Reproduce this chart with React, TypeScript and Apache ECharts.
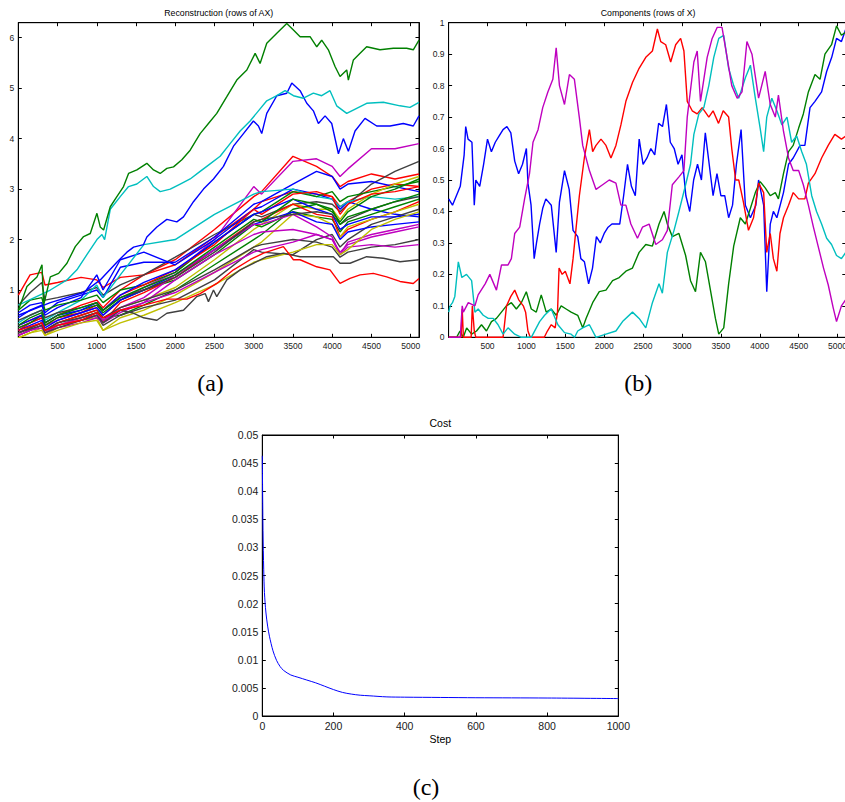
import React, { useEffect, useRef } from 'react';
import * as echarts from 'echarts';

// ---------- colours (MATLAB default order) ----------
const COL: Record<string, string> = {
  b: '#0000FF', g: '#008000', r: '#FF0000', c: '#00BFBF', m: '#BF00BF', y: '#BFBF00', k: '#404040',
};

// ---------- panel (a): Reconstruction (rows of AX) ----------
const aGreenTop: number[][] = [[1,0.6],[110,1.07],[238,1.26],[302,1.5],[323,0.7],[408,1.26],[514,1.33],[620,1.53],[726,1.86],[832,2.06],[917,2.12],[1002,2.52],[1044,2.25],[1087,2.19],[1172,2.65],[1256,2.85],[1341,3.05],[1405,3.31],[1511,3.38],[1638,3.51],[1723,3.38],[1808,3.31],[1893,3.41],[1978,3.44],[2084,3.58],[2190,3.77],[2317,4.1],[2423,4.3],[2529,4.5],[2657,4.83],[2784,5.16],[2912,5.36],[3018,5.69],[3081,5.49],[3166,5.89],[3294,6.09],[3421,6.28],[3506,6.15],[3591,6.02],[3718,6.02],[3803,5.82],[3866,5.95],[3951,5.76],[4036,5.43],[4100,5.23],[4185,5.36],[4206,5.16],[4270,5.56],[4355,5.69],[4439,5.82],[4609,5.76],[4779,5.79],[4949,5.79],[5033,5.76],[5106,5.95]];
const aCyanTop: number[][] = [[1,0.7],[408,1.0],[620,1.2],[747,1.4],[874,1.7],[1002,2.0],[1066,2.1],[1100,2.0],[1172,2.6],[1299,2.85],[1405,3.05],[1511,3.1],[1638,3.25],[1723,3.05],[1808,2.95],[1936,3.0],[2063,3.1],[2190,3.2],[2317,3.35],[2444,3.5],[2572,3.65],[2699,3.9],[2827,4.15],[2954,4.35],[3060,4.55],[3166,4.75],[3294,4.85],[3400,4.95],[3506,4.85],[3633,4.8],[3760,4.9],[3866,4.85],[3972,4.95],[4057,4.65],[4185,4.5],[4312,4.6],[4439,4.7],[4652,4.72],[4864,4.65],[4991,4.62],[5106,4.72]];
const aBlueTop: number[][] = [[1,0.5],[408,0.75],[832,0.95],[1044,1.2],[1256,1.55],[1384,1.75],[1469,1.85],[1596,1.9],[1638,2.05],[1766,2.25],[1893,2.4],[2020,2.35],[2105,2.45],[2232,2.75],[2360,3.0],[2487,3.2],[2614,3.45],[2742,3.85],[2869,4.1],[2996,4.35],[3060,4.25],[3102,4.1],[3166,4.5],[3294,4.85],[3421,4.9],[3485,5.1],[3591,4.95],[3676,4.7],[3760,4.55],[3824,4.3],[3909,4.45],[3994,4.3],[4079,3.7],[4142,4.0],[4206,3.75],[4291,4.15],[4418,4.4],[4567,4.25],[4737,4.25],[4906,4.3],[5033,4.25],[5106,4.45]];
const aGrayLow: number[][] = [[1,0.15],[300,0.3],[340,0.15],[500,0.25],[800,0.4],[1000,0.5],[1080,0.35],[1300,0.6],[1450,0.55],[1596,0.45],[1766,0.4],[1893,0.54],[2105,0.6],[2275,0.87],[2381,0.93],[2423,0.77],[2487,1.0],[2529,0.87],[2657,1.2],[2827,1.4],[2996,1.53],[3166,1.66],[3378,1.73],[3591,1.66],[3803,1.66],[4015,1.66],[4100,1.53],[4227,1.53],[4439,1.66],[4652,1.63],[4864,1.56],[5106,1.6]];
const aRedLow: number[][] = [[1,0.2],[300,0.35],[340,0.2],[500,0.3],[800,0.4],[1000,0.55],[1080,0.45],[1300,0.6],[1600,0.7],[1893,0.82],[2148,0.82],[2317,0.93],[2529,1.13],[2742,1.4],[2954,1.6],[3124,1.73],[3378,1.86],[3506,1.6],[3591,1.6],[3803,1.46],[3972,1.4],[4100,1.13],[4227,1.23],[4355,1.3],[4524,1.33],[4694,1.26],[4864,1.17],[5033,1.13],[5106,1.23]];

const aBundleX = [1,150,300,340,500,800,1000,1080,1300,1600,2000,2500,3000,3100,3500,3800,4000,4100,4200,4500,4800,5106];
const aB01 = [0.9,1.3,1.35,1.1,1.15,1.25,1.2,1.05,1.25,1.3,1.5,2.05,2.6,2.75,2.95,2.9,2.85,2.65,2.75,3.0,3.1,3.05];
const aB02 = [0.3,0.4,0.5,0.35,0.5,0.7,0.8,0.65,1.0,1.3,1.6,2.2,2.85,2.95,3.65,3.45,3.25,3.05,3.15,3.3,3.2,3.3];
const aB03 = [0.25,0.35,0.45,0.3,0.4,0.55,0.65,0.5,0.8,1.05,1.35,2.0,3.05,2.9,3.55,3.6,3.45,3.25,3.4,3.8,3.8,3.9];
const aB04 = [0.7,0.95,1.15,0.8,0.85,0.95,1.05,0.9,1.1,1.3,1.65,2.1,2.5,2.45,2.7,2.75,2.7,2.55,2.7,3.1,3.35,3.55];
const aB05 = [0.55,0.7,0.75,0.55,0.75,0.9,1.0,0.85,1.45,1.55,1.55,2.05,2.7,2.75,3.1,3.35,3.25,3.0,3.1,3.15,3.05,2.95];
const aB06 = [0.45,0.6,0.7,0.5,0.65,0.85,1.3,1.0,1.6,1.75,1.5,2.0,2.6,2.65,3.0,2.9,2.8,2.6,2.75,2.6,2.5,2.45];
const aB07 = [0.35,0.5,0.6,0.4,0.55,0.8,1.1,0.85,1.3,1.9,2.0,2.5,2.9,2.95,3.0,2.85,2.8,2.65,2.75,2.85,2.8,2.85];
const aB08 = [0.6,0.8,0.85,0.6,0.7,0.8,0.9,0.75,1.0,1.1,1.35,1.95,2.5,2.55,2.95,2.85,2.95,2.75,2.85,2.95,3.05,3.15];
const aB09 = [0.1,0.2,0.3,0.15,0.3,0.45,0.55,0.4,0.65,0.8,1.05,1.6,2.2,2.3,2.7,2.6,2.6,2.4,2.6,2.9,3.1,3.25];
const aB10 = [0.15,0.25,0.35,0.2,0.35,0.5,0.6,0.45,0.5,0.7,1.0,1.5,2.0,2.1,2.6,2.7,2.55,2.35,2.55,2.85,3.0,3.2];
const aB11 = [0.2,0.35,0.45,0.3,0.45,0.55,0.7,0.6,0.9,1.1,1.4,1.9,2.6,2.5,2.9,2.95,2.85,2.5,2.7,2.9,2.95,3.05];
const aB12 = [0.25,0.35,0.5,0.3,0.45,0.6,0.7,0.55,0.8,1.0,1.2,1.7,2.3,2.25,2.55,2.45,2.4,2.15,2.35,2.5,2.65,2.8];
const aB13 = [0.15,0.25,0.35,0.2,0.35,0.5,0.6,0.35,0.75,0.95,1.25,1.8,2.35,2.4,2.7,2.5,2.45,2.05,2.2,2.4,2.55,2.75];
const aB14 = [0.05,0.15,0.25,0.1,0.25,0.4,0.45,0.2,0.45,0.6,0.9,1.35,1.85,1.95,2.5,2.45,2.3,2.05,2.25,2.4,2.55,2.7];
const aB15 = [0.1,0.2,0.3,0.15,0.3,0.4,0.5,0.3,0.5,0.65,0.8,1.2,1.8,1.75,1.7,2.0,2.1,1.85,2.0,2.3,2.45,2.6];
const aB16 = [0.3,0.4,0.5,0.35,0.5,0.6,0.75,0.6,0.9,1.15,1.4,1.95,2.5,2.55,2.8,2.6,2.5,2.2,2.3,2.45,2.45,2.5];
const aB17 = [0.2,0.3,0.4,0.25,0.4,0.55,0.65,0.5,0.8,1.0,1.3,1.8,2.3,2.35,2.55,2.35,2.3,2.0,2.15,2.25,2.3,2.35];
const aB18 = [0.15,0.25,0.35,0.2,0.3,0.45,0.55,0.4,0.65,0.85,1.3,1.8,2.3,2.3,2.5,2.25,2.05,1.7,1.95,2.1,2.2,2.3];
const aB19 = [0.1,0.2,0.25,0.15,0.25,0.35,0.45,0.35,0.55,0.75,1.2,1.7,2.1,2.15,2.2,2.1,2.0,1.75,1.9,2.05,2.15,2.25];
const aB20 = [0.15,0.25,0.35,0.2,0.35,0.45,0.55,0.45,0.65,0.8,1.0,1.4,1.85,1.9,2.0,1.95,1.85,1.65,1.75,1.85,1.9,2.0];
const aB21 = [0.1,0.2,0.3,0.15,0.3,0.4,0.5,0.4,0.6,0.75,0.95,1.35,1.75,1.8,1.95,2.1,2.0,1.7,1.85,1.9,1.85,1.9];
const aB22 = [0.05,0.15,0.2,0.1,0.2,0.35,0.4,0.2,0.35,0.5,0.75,1.1,1.55,1.6,1.75,1.9,1.9,1.7,1.8,2.2,2.4,2.55];
const aB23 = [0.4,0.5,0.6,0.45,0.55,0.65,0.75,0.6,0.85,1.0,1.25,1.75,2.35,2.4,2.5,2.55,2.5,2.3,2.4,2.6,2.75,2.85];
const aB24 = [0.3,0.45,0.55,0.35,0.5,0.65,0.75,0.6,0.85,1.05,1.3,1.85,2.4,2.35,2.8,2.7,2.6,2.3,2.45,2.6,2.75,2.9];
const aBundle = [aB01,aB02,aB03,aB04,aB05,aB06,aB07,aB08,aB09,aB10,aB11,aB12,aB13,aB14,aB15,aB16,aB17,aB18,aB19,aB20,aB21,aB22,aB23,aB24];
const aBundleColors = ['r','r','m','k','b','b','c','g','y','g','r','g','r','y','k','b','b','m','m','k','m','y','k','g'];

// ---------- panel (b): Components (rows of X) ----------
const bBlue: number[][] = [[1,0.44],[50,0.42],[100,0.45],[150,0.48],[200,0.58],[220,0.67],[250,0.63],[300,0.62],[330,0.42],[350,0.5],[400,0.48],[450,0.55],[500,0.63],[550,0.59],[600,0.62],[650,0.64],[700,0.66],[750,0.67],[800,0.65],[850,0.56],[900,0.52],[950,0.55],[1000,0.6],[1020,0.49],[1060,0.42],[1100,0.25],[1130,0.3],[1170,0.36],[1210,0.41],[1250,0.44],[1320,0.42],[1383,0.27],[1425,0.43],[1490,0.53],[1550,0.47],[1600,0.34],[1660,0.32],[1700,0.25],[1746,0.24],[1800,0.17],[1850,0.22],[1900,0.32],[1950,0.3],[2000,0.33],[2050,0.35],[2100,0.36],[2200,0.36],[2250,0.45],[2300,0.55],[2350,0.48],[2400,0.45],[2450,0.63],[2500,0.55],[2550,0.57],[2600,0.6],[2650,0.58],[2700,0.68],[2750,0.67],[2800,0.74],[2850,0.62],[2900,0.6],[2950,0.55],[3000,0.58],[3050,0.45],[3100,0.4],[3150,0.5],[3200,0.55],[3250,0.5],[3300,0.65],[3350,0.55],[3400,0.45],[3450,0.52],[3500,0.45],[3550,0.45],[3600,0.38],[3650,0.42],[3700,0.55],[3760,0.66],[3815,0.42],[3880,0.38],[3950,0.42],[3985,0.5],[4050,0.42],[4090,0.145],[4135,0.36],[4175,0.4],[4220,0.38],[4305,0.46],[4370,0.55],[4430,0.57],[4518,0.61],[4580,0.61],[4646,0.73],[4710,0.75],[4795,0.78],[4860,0.845],[4925,0.89],[4987,0.95],[5050,0.94],[5106,0.98]];
const bRed: number[][] = [[1,0],[160,0],[175,0.09],[190,0],[290,0],[305,0.1],[330,0.02],[350,0],[700,0],[745,0.1],[800,0.13],[850,0.15],[900,0.12],[960,0.1],[990,0.08],[1020,0.02],[1050,0],[1230,0],[1270,0.02],[1320,0.04],[1370,0.03],[1400,0.08],[1420,0.22],[1460,0.2],[1500,0.21],[1560,0.17],[1600,0.25],[1640,0.35],[1681,0.45],[1745,0.57],[1810,0.66],[1852,0.59],[1895,0.61],[1959,0.63],[2023,0.61],[2087,0.57],[2151,0.61],[2215,0.675],[2279,0.75],[2364,0.81],[2449,0.855],[2535,0.89],[2620,0.91],[2684,0.98],[2727,0.94],[2791,0.93],[2855,0.875],[2919,0.93],[2983,0.95],[3025,0.91],[3068,0.75],[3132,0.72],[3196,0.71],[3260,0.73],[3345,0.7],[3400,0.72],[3470,0.68],[3530,0.72],[3600,0.7],[3640,0.6],[3690,0.5],[3730,0.5],[3790,0.43],[3855,0.34],[3920,0.38],[3985,0.49],[4050,0.46],[4090,0.27],[4135,0.33],[4175,0.25],[4220,0.21],[4260,0.33],[4305,0.38],[4370,0.42],[4430,0.46],[4500,0.44],[4580,0.44],[4625,0.49],[4710,0.52],[4795,0.57],[4880,0.61],[4965,0.645],[5050,0.63],[5106,0.64]];
const bMagenta: number[][] = [[1,0],[150,0],[175,0.1],[190,0.08],[253,0.11],[338,0.1],[380,0.135],[470,0.17],[530,0.2],[615,0.15],[680,0.23],[764,0.23],[807,0.25],[850,0.33],[914,0.35],[977,0.44],[1040,0.52],[1085,0.62],[1150,0.66],[1210,0.73],[1276,0.78],[1340,0.82],[1383,0.92],[1425,0.8],[1490,0.74],[1553,0.835],[1617,0.82],[1680,0.7],[1724,0.61],[1810,0.53],[1895,0.47],[1980,0.485],[2065,0.5],[2151,0.49],[2215,0.42],[2279,0.42],[2343,0.36],[2428,0.315],[2492,0.35],[2578,0.36],[2663,0.295],[2748,0.31],[2812,0.34],[2876,0.485],[2961,0.51],[3025,0.53],[3068,0.7],[3153,0.875],[3196,0.91],[3238,0.75],[3324,0.89],[3388,0.95],[3452,0.985],[3515,0.985],[3580,0.89],[3640,0.8],[3710,0.76],[3772,0.78],[3835,0.94],[3900,0.9],[3985,0.76],[4070,0.845],[4135,0.74],[4200,0.7],[4240,0.77],[4305,0.655],[4370,0.57],[4430,0.53],[4500,0.53],[4560,0.485],[4625,0.42],[4690,0.35],[4755,0.285],[4820,0.22],[4880,0.167],[4945,0.093],[4987,0.05],[5050,0.1],[5106,0.12]];
const bCyan: number[][] = [[1,0.08],[20,0.1],[50,0.11],[80,0.13],[125,0.24],[170,0.19],[230,0.2],[296,0.18],[338,0.08],[380,0.09],[445,0.07],[510,0.06],[573,0.06],[636,0.04],[700,0.01],[764,0.03],[850,0.01],[935,0],[1063,0],[1170,0.05],[1234,0.07],[1319,0.09],[1405,0.04],[1490,0.015],[1575,0.01],[1620,0],[1660,0.02],[1724,0.03],[1810,0.04],[1895,0],[2023,0.01],[2151,0.02],[2236,0.05],[2364,0.08],[2449,0.06],[2535,0.03],[2620,0.11],[2705,0.17],[2748,0.14],[2812,0.27],[2898,0.34],[2961,0.4],[3047,0.485],[3110,0.55],[3153,0.645],[3217,0.71],[3281,0.73],[3345,0.8],[3409,0.89],[3473,0.95],[3537,0.96],[3600,0.855],[3665,0.8],[3730,0.76],[3815,0.825],[3880,0.865],[3943,0.76],[4005,0.665],[4050,0.59],[4090,0.7],[4155,0.76],[4220,0.72],[4285,0.675],[4350,0.7],[4410,0.62],[4475,0.64],[4540,0.59],[4600,0.55],[4668,0.45],[4730,0.4],[4795,0.36],[4860,0.315],[4923,0.295],[4987,0.26],[5050,0.25],[5106,0.27]];
const bGreen: number[][] = [[1,0],[103,0],[146,0.02],[189,0],[232,0.03],[296,0.01],[359,0.02],[423,0.04],[487,0.02],[551,0.05],[615,0.06],[679,0.08],[743,0.1],[807,0.11],[871,0.09],[935,0.11],[999,0.145],[1063,0.09],[1127,0.08],[1191,0.135],[1255,0.08],[1319,0.09],[1383,0.07],[1447,0.1],[1511,0.09],[1575,0.08],[1660,0.07],[1724,0.03],[1767,0.06],[1852,0.11],[1937,0.145],[2023,0.15],[2108,0.18],[2193,0.19],[2279,0.21],[2364,0.22],[2449,0.27],[2535,0.295],[2620,0.29],[2705,0.36],[2770,0.4],[2812,0.36],[2876,0.32],[2961,0.33],[3047,0.26],[3110,0.18],[3174,0.145],[3238,0.27],[3302,0.24],[3366,0.15],[3430,0.06],[3473,0.01],[3537,0.03],[3600,0.17],[3665,0.29],[3750,0.38],[3815,0.36],[3880,0.41],[3943,0.46],[4005,0.495],[4070,0.475],[4135,0.45],[4200,0.46],[4240,0.44],[4305,0.52],[4370,0.59],[4430,0.61],[4500,0.665],[4560,0.71],[4625,0.78],[4710,0.835],[4775,0.82],[4838,0.9],[4923,0.93],[4987,0.99],[5050,0.96],[5106,0.97]];

// ---------- panel (c): Cost ----------
const cSteps = [0,2,4,6,10,15,20,30,40,50,60,80,100,125,150,175,200,225,250,275,300,350,400,500,600,800,1000];
const cCost = [0.0463,0.033,0.026,0.022,0.0185,0.016,0.0142,0.0116,0.0099,0.0088,0.0081,0.0073,0.0069,0.0064,0.0059,0.0053,0.0047,0.0042,0.0039,0.0037,0.0036,0.0034,0.00335,0.0033,0.00325,0.0032,0.0031];

// ---------- texts ----------
const titles = ['Reconstruction (rows of AX)', 'Components (rows of X)', 'Cost'];
const xLabelC = 'Step';
const captions = ['(a)', '(b)', '(c)'];

const SANS = 'Liberation Sans';

function axis(pos: string, gridIndex: number, min: number, max: number, interval: number | undefined,
  fontSize: number, showLabel: boolean, formatter?: (v: number) => string) {
  const a: any = {
    type: 'value', gridIndex, position: pos, min, max,
    axisLine: { show: true, onZero: false, lineStyle: { color: '#000', width: 1 } },
    axisTick: { show: true, inside: true, length: 3.5, lineStyle: { color: '#000', width: 1 } },
    axisLabel: { show: showLabel, fontSize, fontFamily: SANS, color: '#1a1a1a', margin: 4,
      formatter: formatter || ((v: number) => String(v)) },
    splitLine: { show: false },
  };
  if (interval !== undefined) a.interval = interval;
  return a;
}

function buildOption() {
  const fmtA_x = (v: number) => (v > 0 && v % 500 === 0 ? String(v) : '');
  const fmtA_y = (v: number) => (Number.isInteger(v) ? String(v) : '');
  const aYmin = 0.063, aYmax = 6.297;
  const LW = 1.4;

  const series: any[] = [];
  const lineA = (data: number[][], color: string) => ({
    type: 'line', xAxisIndex: 0, yAxisIndex: 0, data, showSymbol: false, symbol: 'none',
    lineStyle: { color, width: LW }, itemStyle: { color }, silent: true,
  });
  aBundle.forEach((ys, i) => {
    series.push(lineA(aBundleX.map((x, j) => [x, ys[j]]), COL[aBundleColors[i]]));
  });
  series.push(lineA(aGrayLow, COL.k));
  series.push(lineA(aRedLow, COL.r));
  series.push(lineA(aBlueTop, COL.b));
  series.push(lineA(aCyanTop, COL.c));
  series.push(lineA(aGreenTop, COL.g));

  const lineB = (data: number[][], color: string) => ({
    type: 'line', xAxisIndex: 2, yAxisIndex: 2, data, showSymbol: false, symbol: 'none',
    lineStyle: { color, width: LW }, itemStyle: { color }, silent: true,
  });
  series.push(lineB(bBlue, COL.b));
  series.push(lineB(bGreen, COL.g));
  series.push(lineB(bRed, COL.r));
  series.push(lineB(bCyan, COL.c));
  series.push(lineB(bMagenta, COL.m));

  series.push({
    type: 'line', xAxisIndex: 4, yAxisIndex: 4, data: cSteps.map((s, i) => [s, cCost[i]]),
    showSymbol: false, symbol: 'none', smooth: 0.3,
    lineStyle: { color: COL.b, width: 1 }, itemStyle: { color: COL.b }, silent: true,
  });

  const txt = (text: string, x: number, y: number, fontSize: number, family: string) => ({
    type: 'text', x, y, silent: true,
    style: { text, fontSize, fontFamily: family, fill: '#000', textAlign: 'center', align: 'center',
      textVerticalAlign: 'middle', verticalAlign: 'middle' },
  });

  const gridStyle = { show: true, borderColor: '#000', borderWidth: 1, backgroundColor: '#fff' };

  return {
    animation: false,
    backgroundColor: '#fff',
    grid: [
      { left: 18.3, top: 22.7, width: 400.7, height: 314.6, ...gridStyle },
      { left: 448.6, top: 22.7, width: 399, height: 314.6, ...gridStyle },
      { left: 262.3, top: 435, width: 356, height: 281, ...gridStyle },
    ],
    xAxis: [
      axis('bottom', 0, 0, 5106, 500, 8.5, true, fmtA_x),
      axis('top', 0, 0, 5106, 500, 8.5, false),
      axis('bottom', 1, 0, 5106, 500, 8.5, true, fmtA_x),
      axis('top', 1, 0, 5106, 500, 8.5, false),
      axis('bottom', 2, 0, 1000, 200, 10.5, true),
      axis('top', 2, 0, 1000, 200, 10.5, false),
    ],
    yAxis: [
      axis('left', 0, aYmin, aYmax, undefined, 8.5, true, fmtA_y),
      axis('right', 0, aYmin, aYmax, undefined, 8.5, false),
      axis('left', 1, 0, 1, 0.1, 8.5, true),
      axis('right', 1, 0, 1, 0.1, 8.5, false),
      axis('left', 2, 0, 0.05, 0.005, 10.5, true),
      axis('right', 2, 0, 0.05, 0.005, 10.5, false),
    ],
    series,
    graphic: [
      txt(titles[0], 218.7, 12.7, 8.8, SANS),
      txt(titles[1], 648.1, 12.7, 8.8, SANS),
      txt(titles[2], 440.3, 423.3, 10.5, SANS),
      txt(xLabelC, 440.3, 739.3, 10.5, SANS),
      txt(captions[0], 210.5, 383, 24, 'Liberation Serif'),
      txt(captions[1], 638.3, 383, 24, 'Liberation Serif'),
      txt(captions[2], 426, 786.7, 24, 'Liberation Serif'),
    ],
  };
}

export default function App() {
  const ref = useRef<HTMLDivElement>(null);
  useEffect(() => {
    if (!ref.current) return;
    const chart = echarts.init(ref.current, null, { renderer: 'svg' });
    chart.setOption(buildOption() as any);
    return () => chart.dispose();
  }, []);
  return (
    <div style={{ position: 'absolute', left: 0, top: 0, width: 845, height: 802, overflow: 'hidden', background: '#fff' }}>
      <div ref={ref} style={{ width: 850, height: 802 }} />
    </div>
  );
}
